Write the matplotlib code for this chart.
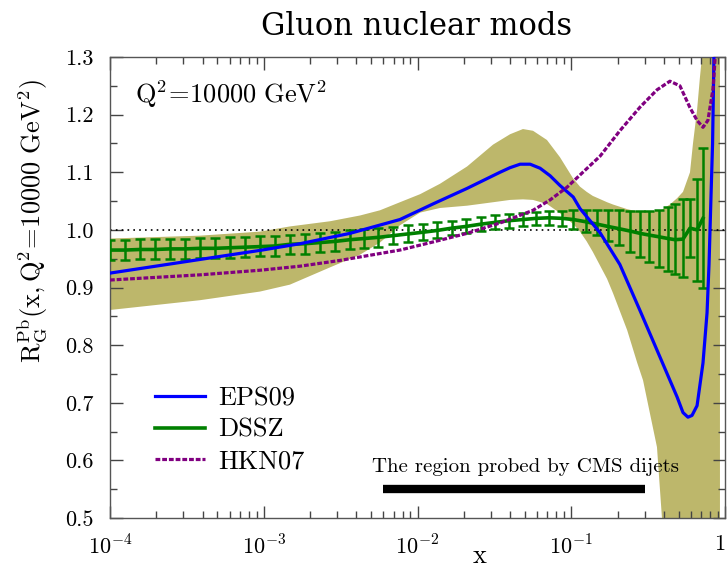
import matplotlib
matplotlib.use("Agg")
import matplotlib.pyplot as plt
from matplotlib.lines import Line2D
from matplotlib.ticker import FixedLocator, FixedFormatter, LogLocator, MultipleLocator, NullFormatter

plt.rcParams["mathtext.fontset"] = "cm"
plt.rcParams["font.family"] = "cmr10"
plt.rcParams["axes.formatter.use_mathtext"] = True

# EPS09 central gluon modification, Pb, Q^2 = 10^4 GeV^2
eps_x = [1.0e-4, 3.12e-4, 9.75e-4, 1.72e-3, 3.64e-3, 7.69e-3, 1.26e-2, 2.10e-2,
         3.44e-2, 4.00e-2, 4.65e-2, 5.40e-2, 6.27e-2, 7.28e-2, 8.45e-2, 0.103,
         0.114, 0.154, 0.207, 0.280, 0.378, 0.488, 0.533, 0.574, 0.610, 0.658,
         0.719, 0.764, 0.787, 0.811, 0.830, 0.847, 0.861]
eps_y = [0.925, 0.945, 0.965, 0.976, 0.994, 1.018, 1.045, 1.072,
         1.100, 1.108, 1.114, 1.114, 1.107, 1.094, 1.077, 1.057,
         1.037, 0.995, 0.940, 0.860, 0.779, 0.710, 0.683, 0.675, 0.678, 0.695,
         0.769, 0.856, 0.940, 1.060, 1.150, 1.300, 1.360]

# EPS09 uncertainty band
band_x = [1.0e-4, 3.85e-4, 9.46e-4, 1.48e-3, 2.70e-3, 4.23e-3, 5.70e-3, 7.69e-3,
          1.04e-2, 1.40e-2, 2.10e-2, 3.10e-2, 4.00e-2, 4.85e-2, 5.64e-2, 6.95e-2,
          8.45e-2, 0.103, 0.114, 0.126, 0.138, 0.171, 0.187, 0.231, 0.268, 0.293,
          0.361, 0.389, 0.438, 0.488, 0.533, 0.592, 0.619, 0.658, 0.687, 0.708,
          0.751, 0.927]
band_lo = [0.861, 0.878, 0.893, 0.905, 0.935, 0.957, 0.978, 1.008,
           1.030, 1.038, 1.042, 1.048, 1.052, 1.053, 1.052, 1.045,
           1.029, 1.010, 0.997, 0.980, 0.962, 0.915, 0.890, 0.826, 0.770, 0.739,
           0.623, 0.500, 0.350, 0.300, 0.300, 0.300, 0.300, 0.300, 0.300, 0.300,
           0.300, 0.300]
band_hi = [0.985, 0.990, 0.997, 1.006, 1.015, 1.025, 1.034, 1.048,
           1.062, 1.080, 1.110, 1.148, 1.166, 1.175, 1.172, 1.156,
           1.126, 1.089, 1.075, 1.066, 1.059, 1.048, 1.044, 1.036, 1.032, 1.031,
           1.033, 1.035, 1.044, 1.055, 1.066, 1.100, 1.150, 1.208, 1.265, 1.300,
           1.400, 1.600]

# DSSZ central value with error bars
dssz_x = [1.00e-4, 1.25e-4, 1.57e-4, 1.96e-4, 2.45e-4, 3.08e-4, 3.85e-4, 4.82e-4,
          6.03e-4, 7.55e-4, 9.46e-4, 1.18e-3, 1.48e-3, 1.85e-3, 2.32e-3, 2.90e-3,
          3.64e-3, 4.49e-3, 5.53e-3, 6.93e-3, 8.67e-3, 1.09e-2, 1.34e-2, 1.67e-2,
          2.07e-2, 2.59e-2, 3.19e-2, 3.94e-2, 4.85e-2, 5.90e-2, 7.16e-2, 8.71e-2,
          0.103, 0.125, 0.147, 0.173, 0.205, 0.241, 0.280, 0.321, 0.372, 0.426,
          0.473, 0.533, 0.592, 0.658, 0.719]
dssz_val = [0.965, 0.965, 0.966, 0.966, 0.967, 0.967, 0.968, 0.968,
            0.969, 0.970, 0.971, 0.972, 0.975, 0.976, 0.978, 0.980,
            0.983, 0.985, 0.987, 0.990, 0.993, 0.996, 0.999, 1.003,
            1.006, 1.010, 1.013, 1.016, 1.018, 1.020, 1.021, 1.020,
            1.018, 1.014, 1.010, 1.006, 1.002, 0.998, 0.994, 0.991, 0.988, 0.985,
            0.983, 0.984, 1.003, 1.000, 1.020]
dssz_lo = [0.948, 0.948, 0.949, 0.949, 0.950, 0.950, 0.951, 0.951,
           0.952, 0.953, 0.954, 0.955, 0.958, 0.959, 0.961, 0.964,
           0.967, 0.969, 0.971, 0.975, 0.979, 0.982, 0.986, 0.991,
           0.994, 0.998, 1.001, 1.004, 1.006, 1.008, 1.008, 1.006,
           1.002, 0.997, 0.991, 0.981, 0.973, 0.962, 0.953, 0.945, 0.936, 0.929,
           0.923, 0.918, 0.953, 0.911, 0.900]
dssz_hi = [0.983, 0.983, 0.984, 0.984, 0.985, 0.985, 0.986, 0.986,
           0.987, 0.988, 0.989, 0.990, 0.992, 0.993, 0.995, 0.997,
           0.999, 1.001, 1.003, 1.005, 1.008, 1.010, 1.013, 1.016,
           1.019, 1.022, 1.026, 1.028, 1.030, 1.031, 1.033, 1.033,
           1.034, 1.034, 1.034, 1.034, 1.034, 1.033, 1.032, 1.033, 1.034, 1.040,
           1.045, 1.053, 1.053, 1.089, 1.142]

# HKN07
hkn_x = [1.0e-4, 3.85e-4, 9.46e-4, 1.72e-3, 3.13e-3, 7.69e-3, 1.26e-2, 2.10e-2,
         3.44e-2, 5.64e-2, 7.28e-2, 9.38e-2, 0.119, 0.154, 0.207, 0.280, 0.361,
         0.438, 0.509, 0.592, 0.658, 0.719, 0.774, 0.836, 0.861, 0.873]
hkn_y = [0.913, 0.922, 0.930, 0.937, 0.947, 0.965, 0.979, 0.994,
         1.012, 1.034, 1.052, 1.074, 1.100, 1.128, 1.172, 1.213, 1.243,
         1.258, 1.250, 1.212, 1.190, 1.178, 1.190, 1.245, 1.295, 1.330]

# x range probed by CMS dijets
cms_range = [0.006, 0.3]

xticks = [1e-4, 1e-3, 1e-2, 1e-1, 1]
xtick_labels = [r"$10^{-4}$", r"$10^{-3}$", r"$10^{-2}$", r"$10^{-1}$", r"$1$"]

fig = plt.figure(figsize=(7.28, 5.69), dpi=100)
ax = fig.add_axes([0.1511, 0.0896, 0.8448, 0.8102])

ax.fill_between(band_x, band_lo, band_hi, color="#bdb76b", lw=0, zorder=1)
ax.axhline(1.0, color="black", ls=(0, (1, 2.5)), lw=1.2, zorder=2)

ax.plot(dssz_x, dssz_val, color="#008000", lw=2.6, zorder=3, label="DSSZ")
yerr = [[v - l for v, l in zip(dssz_val, dssz_lo)],
        [h - v for v, h in zip(dssz_val, dssz_hi)]]
ax.errorbar(dssz_x, dssz_val, yerr=yerr, fmt="none", ecolor="#008000",
            elinewidth=1.8, capsize=3.6, capthick=1.8, zorder=3)
ax.plot(eps_x, eps_y, color="#0000ff", lw=2.3, zorder=4, label="EPS09")
ax.plot(hkn_x, hkn_y, color="#800080", lw=2.3, dashes=(1.5, 0.6), zorder=5,
        label="HKN07")

# CMS dijet bar and caption
ax.plot(cms_range, [0.551, 0.551], color="black", lw=6, solid_capstyle="butt", zorder=6)
ax.text(5.06e-3, 0.5795, "The region probed by CMS dijets", fontsize=15,
        ha="left", va="baseline", zorder=6)

ax.set_xscale("log")
ax.set_xlim(1e-4, 1)
ax.set_ylim(0.5, 1.3)

ax.xaxis.set_major_locator(FixedLocator(xticks))
ax.xaxis.set_major_formatter(FixedFormatter(xtick_labels))
ax.xaxis.set_minor_locator(LogLocator(base=10, subs=range(2, 10)))
ax.xaxis.set_minor_formatter(NullFormatter())
ax.yaxis.set_major_locator(MultipleLocator(0.1))
ax.yaxis.set_minor_locator(MultipleLocator(0.05))
ax.yaxis.set_major_formatter(plt.FormatStrFormatter("%.1f"))

ax.tick_params(which="both", direction="in", top=True, right=True,
               color="#444444", labelsize=16)
ax.tick_params(which="major", length=9, width=1, pad=12)
ax.tick_params(which="minor", length=5, width=1)
for s in ax.spines.values():
    s.set_color("#555555")
    s.set_linewidth(1)

# keep the "1" label inside the figure
ax.xaxis.get_major_ticks()[-1].label1.set_horizontalalignment("right")

ax.set_xlabel(r"$\mathrm{x}$", fontsize=19, va="center")
ax.xaxis.set_label_coords(0.602, -0.082)
ax.set_ylabel(r"$\mathrm{R_G^{Pb}(x,Q^2\!=\!10000\ GeV^2)}$", fontsize=19, va="center")
ax.yaxis.set_label_coords(-0.125, 0.643)

ax.text(0.041, 0.900, r"$\mathrm{Q^2\!=\!10000\ GeV^2}$", fontsize=19,
        transform=ax.transAxes, ha="left", va="baseline")

handles = [Line2D([], [], color="#0000ff", lw=2.3),
           Line2D([], [], color="#008000", lw=2.6),
           Line2D([], [], color="#800080", lw=2.3, dashes=(1.5, 0.6))]
ax.legend(handles, ["EPS09", "DSSZ", "HKN07"], loc="center left",
          bbox_to_anchor=(0.073, 0.191), frameon=False, fontsize=19,
          handlelength=1.9, handletextpad=0.5, labelspacing=0.3,
          borderpad=0, borderaxespad=0)

fig.text(417 / 728, 1 - 35 / 569, "Gluon nuclear mods", family="DejaVu Serif",
         fontsize=22, ha="center", va="baseline")

fig.savefig("out.png", dpi=100)
